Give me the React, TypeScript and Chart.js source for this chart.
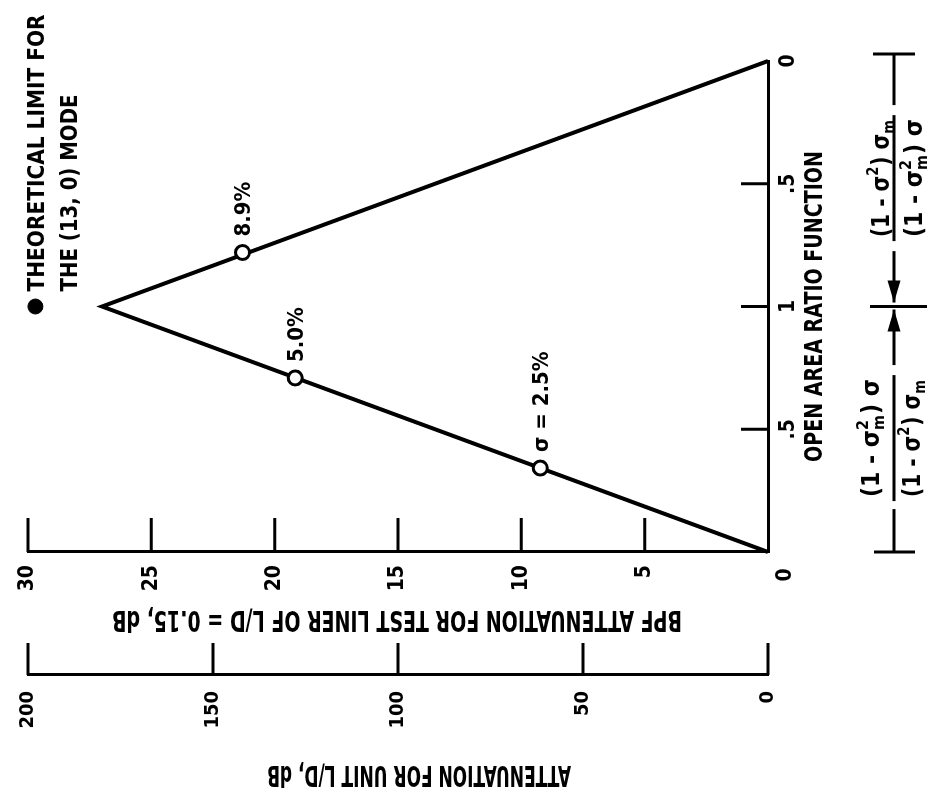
import React, { useEffect, useRef } from 'react';
import { Chart, registerables } from 'chart.js';

Chart.register(...registerables);

const FONT = "'DejaVu Sans Condensed', 'DejaVu Sans', sans-serif";
const FONT_F = "'DejaVu Sans Condensed', 'DejaVu Sans', sans-serif";

// ---- data ----
const lineX = [0, 1, 2];
const lineY = [0, 27, 0];
const sigmaX = [0.342, 0.709, 1.22];
const sigmaY = [9.23, 19.17, 21.3];
const sigmaLabels = ['σ = 2.5%', '5.0%', '8.9%'];
const limitX = [1.0];
const limitY = [29.7];
const limitLabel = ['THEORETICAL LIMIT FOR', 'THE (13, 0) MODE'];
const xTicks = [0, 0.5, 1, 1.5, 2];
const xTickLabels = ['', '.5', '1', '.5', '0'];
const yTicks = [0, 5, 10, 15, 20, 25, 30];
const y2Ticks = [0, 50, 100, 150, 200];
const xTitle = 'OPEN AREA RATIO FUNCTION';
const yTitle = 'BPF ATTENUATION FOR TEST LINER OF L/D = 0.15, dB';
const y2Title = 'ATTENUATION FOR UNIT L/D, dB';
const cornerLabel = '0';
const fracCenters = [0.464, 1.523];

type Piece = { t?: string; sup?: string; sub?: string };
const fracA: Piece[] = [{ t: '(1 - σ' }, { sup: '2', sub: 'm' }, { t: ') σ' }];
const fracB: Piece[] = [{ t: '(1 - σ' }, { sup: '2' }, { t: ') σ' }, { sub: 'm' }];

function txt(
  ctx: CanvasRenderingContext2D,
  s: string,
  x: number,
  y: number,
  o: { size: number; rot?: number; align?: CanvasTextAlign; baseline?: CanvasTextBaseline; width?: number; weight?: string }
) {
  ctx.save();
  ctx.translate(x, y);
  if (o.rot) ctx.rotate(o.rot);
  ctx.font = `${o.weight || 'bold'} ${o.size}px ${FONT}`;
  let sx = 1;
  if (o.width) sx = o.width / ctx.measureText(s).width;
  ctx.scale(sx, 1);
  ctx.textAlign = o.align || 'center';
  ctx.textBaseline = o.baseline || 'middle';
  ctx.fillText(s, 0, 0);
  ctx.restore();
}

function piecesWidth(ctx: CanvasRenderingContext2D, pieces: Piece[], size: number) {
  let w = 0;
  for (const p of pieces) {
    if (p.t) {
      ctx.font = `bold ${size}px ${FONT_F}`;
      w += ctx.measureText(p.t).width;
    } else {
      ctx.font = `bold ${size * 0.65}px ${FONT_F}`;
      w += Math.max(p.sup ? ctx.measureText(p.sup).width : 0, p.sub ? ctx.measureText(p.sub).width : 0) + 1;
    }
  }
  return w;
}

function drawPieces(ctx: CanvasRenderingContext2D, pieces: Piece[], cx: number, base: number, size: number, target: number) {
  const w = piecesWidth(ctx, pieces, size);
  const sx = target / w;
  ctx.save();
  ctx.translate(cx, base);
  ctx.scale(sx, 1);
  ctx.textAlign = 'left';
  ctx.textBaseline = 'alphabetic';
  let x = -w / 2;
  for (const p of pieces) {
    if (p.t) {
      ctx.font = `bold ${size}px ${FONT_F}`;
      ctx.fillText(p.t, x, 0);
      x += ctx.measureText(p.t).width;
    } else {
      ctx.font = `bold ${size * 0.65}px ${FONT_F}`;
      if (p.sup) ctx.fillText(p.sup, x, -size * 0.45);
      if (p.sub) ctx.fillText(p.sub, x, size * 0.22);
      x += Math.max(p.sup ? ctx.measureText(p.sup).width : 0, p.sub ? ctx.measureText(p.sub).width : 0) + 1;
    }
  }
  ctx.restore();
}

const decorPlugin = {
  id: 'decor',
  afterDraw(chart: any) {
    const ctx: CanvasRenderingContext2D = chart.ctx;
    const xs = chart.scales.x;
    const ys = chart.scales.y;
    const y2s = chart.scales.y2;
    const ca = chart.chartArea;
    const line = (a: number, b: number, c: number, d: number) => {
      ctx.beginPath();
      ctx.moveTo(a, b);
      ctx.lineTo(c, d);
      ctx.stroke();
    };
    ctx.save();
    ctx.strokeStyle = '#000';
    ctx.fillStyle = '#000';
    ctx.lineCap = 'butt';
    ctx.lineWidth = 3;

    // inward tick marks
    yTicks.forEach((v) => {
      if (v === 0) return;
      const p = ys.getPixelForValue(v);
      line(ca.left, p, ca.left + 34, p);
    });
    y2Ticks.forEach((v) => {
      const p = y2s.getPixelForValue(v);
      line(y2s.right, p, y2s.right + 32, p);
    });
    xTicks.forEach((v) => {
      if (v === 0 || v === 2) return;
      const p = xs.getPixelForValue(v);
      line(p, ca.bottom, p, ca.bottom - 27);
    });

    // corner label
    txt(ctx, cornerLabel, ca.left - 23, ca.bottom + 18, { size: 21 });

    // axis titles
    const midV = (ca.top + ca.bottom) / 2;
    txt(ctx, yTitle, ca.left - 66, midV - 1, { size: 28, rot: -Math.PI / 2, width: 570 });
    txt(ctx, y2Title, y2s.left + 18, midV + 21, { size: 28, rot: -Math.PI / 2, width: 304 });
    txt(ctx, xTitle, xs.getPixelForValue(1), ca.bottom + 48, { size: 24, width: 311 });

    // point labels
    sigmaX.forEach((x, i) => {
      const px = xs.getPixelForValue(x);
      const py = ys.getPixelForValue(sigmaY[i]);
      txt(ctx, sigmaLabels[i], px + 16, py + 2, { size: 22, align: 'left' });
    });

    // theoretical limit label
    const lx = xs.getPixelForValue(limitX[0]);
    const ly = ys.getPixelForValue(limitY[0]);
    txt(ctx, limitLabel[0], lx + 15, ly + 3, { size: 23, align: 'left', width: 277 });
    txt(ctx, limitLabel[1], lx + 15, ly + 36, { size: 23, align: 'left', width: 197 });

    // dimension annotation with fractions
    const dimV = ca.bottom + 126;
    const u0 = xs.getPixelForValue(0);
    const u2 = xs.getPixelForValue(2) + 7;
    const uc = xs.getPixelForValue(1);
    line(u0, dimV - 20, u0, dimV + 21);
    line(u2, dimV - 21, u2, dimV + 21);
    line(uc, dimV - 24, uc, dimV + 33);
    const target = 118;
    const half = target / 2 + 4;
    const cl = xs.getPixelForValue(fracCenters[0]);
    const cr = xs.getPixelForValue(fracCenters[1]);
    // left side
    line(u0, dimV, cl - half - 8, dimV);
    line(cl - half, dimV, cl + half, dimV);
    line(cl + half + 10, dimV, uc - 3, dimV);
    // right side
    line(uc + 4, dimV, cr - half - 10, dimV);
    line(cr - half, dimV, cr + half, dimV);
    line(cr + half + 10, dimV, u2, dimV);
    // arrowheads
    const arrow = (tip: number, dir: number) => {
      ctx.beginPath();
      ctx.moveTo(tip, dimV);
      ctx.lineTo(tip - dir * 22, dimV - 6.5);
      ctx.lineTo(tip - dir * 22, dimV + 6.5);
      ctx.closePath();
      ctx.fill();
    };
    arrow(uc - 3, 1);
    arrow(uc + 4, -1);
    drawPieces(ctx, fracA, cl, dimV - 15, 24, target);
    drawPieces(ctx, fracB, cl, dimV + 26, 24, target);
    drawPieces(ctx, fracB, cr, dimV - 5, 24, target);
    drawPieces(ctx, fracA, cr, dimV + 28, 24, target);

    ctx.restore();
  },
};

export default function App() {
  const ref = useRef<HTMLCanvasElement>(null);
  useEffect(() => {
    const c = ref.current;
    if (!c) return;
    const chart = new Chart(c, {
      type: 'line',
      data: {
        datasets: [
          {
            label: 'sigma',
            data: sigmaX.map((x, i) => ({ x, y: sigmaY[i] })),
            showLine: false,
            pointRadius: 7,
            pointBorderWidth: 3,
            pointBackgroundColor: '#fff',
            pointBorderColor: '#000',
            clip: false,
          } as any,
          {
            label: 'limit',
            data: limitX.map((x, i) => ({ x, y: limitY[i] })),
            showLine: false,
            pointRadius: 7.5,
            pointBorderWidth: 1,
            pointBackgroundColor: '#000',
            pointBorderColor: '#000',
            clip: false,
          } as any,
          {
            label: 'attenuation',
            data: lineX.map((x, i) => ({ x, y: lineY[i] })),
            borderColor: '#000',
            borderWidth: 4,
            pointRadius: 0,
            tension: 0,
            borderJoinStyle: 'miter',
            clip: false,
          } as any,
        ],
      },
      options: {
        responsive: false,
        maintainAspectRatio: false,
        animation: false,
        devicePixelRatio: 1,
        layout: { padding: { left: 0, top: 21, right: 61, bottom: 0 } },
        plugins: { legend: { display: false }, tooltip: { enabled: false } },
        scales: {
          x: {
            type: 'linear',
            position: 'bottom',
            min: 0,
            max: 2,
            afterFit: (s: any) => { s.height = 173; },
            afterBuildTicks: (s: any) => { s.ticks = xTicks.map((v) => ({ value: v })); },
            ticks: {
              callback: (v: any) => xTickLabels[xTicks.indexOf(Number(v))] ?? '',
              font: { size: 21, family: FONT, weight: 'bold' },
              color: '#000',
              padding: 8,
              maxRotation: 0,
              autoSkip: false,
            },
            grid: { display: false, drawTicks: false },
            border: { display: true, color: '#000', width: 3 },
          },
          y: {
            type: 'linear',
            position: 'left',
            weight: 0,
            min: 0,
            max: 30,
            afterFit: (s: any) => { s.width = 123; },
            afterBuildTicks: (s: any) => { s.ticks = yTicks.map((v) => ({ value: v })); },
            ticks: {
              callback: (v: any) => (Number(v) === 0 ? '' : String(v)),
              font: { size: 21, family: FONT, weight: 'bold' },
              color: '#000',
              padding: 13,
              autoSkip: false,
            },
            grid: { display: false, drawTicks: false },
            border: { display: true, color: '#000', width: 3 },
          },
          y2: {
            type: 'linear',
            position: 'left',
            weight: 1,
            min: 0,
            max: 200,
            afterFit: (s: any) => { s.width = 116; },
            afterBuildTicks: (s: any) => { s.ticks = y2Ticks.map((v) => ({ value: v })); },
            ticks: {
              callback: (v: any) => String(v),
              font: { size: 20, family: FONT, weight: 'bold' },
              color: '#000',
              padding: 16,
              autoSkip: false,
            },
            grid: { display: false, drawTicks: false },
            border: { display: true, color: '#000', width: 3 },
          },
        },
      } as any,
      plugins: [decorPlugin],
    });
    return () => chart.destroy();
  }, []);
  return (
    <div style={{ position: 'fixed', left: 0, top: 0, width: 941, height: 791, overflow: 'hidden', background: '#fff' }}>
      <div
        style={{
          position: 'absolute',
          left: 0,
          top: 0,
          width: 791,
          height: 941,
          transformOrigin: '0 0',
          transform: 'translateY(791px) rotate(-90deg)',
        }}
      >
        <canvas ref={ref} width={791} height={941} style={{ width: 791, height: 941, display: 'block' }} />
      </div>
    </div>
  );
}
